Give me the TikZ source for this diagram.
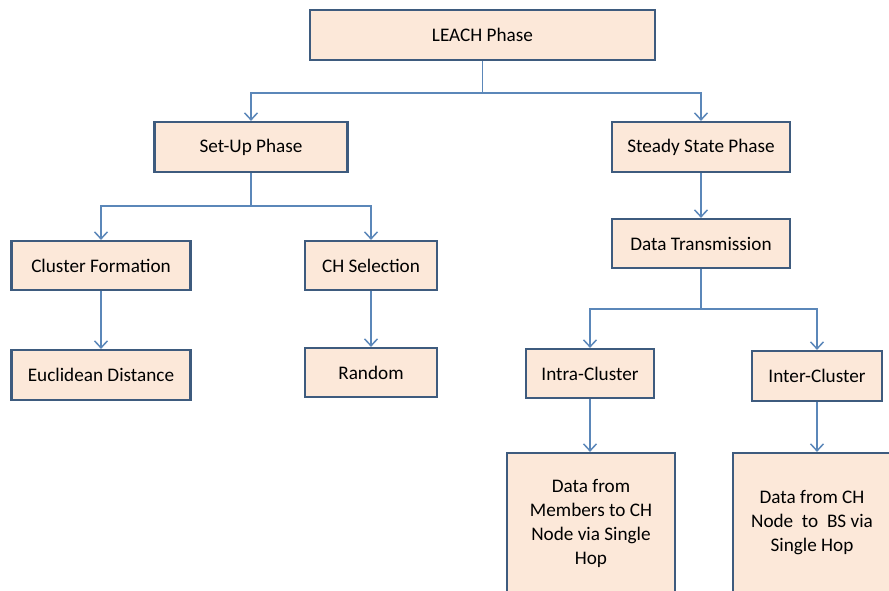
\documentclass[tikz,border=0pt]{standalone}
\usepackage{fontspec}
\setmainfont{Carlito}
\usetikzlibrary{arrows.meta,positioning}

\definecolor{boxfill}{HTML}{FCE8D9}
\definecolor{boxline}{HTML}{3E5B7E}
\definecolor{linkblue}{HTML}{5B87B9}

\begin{document}
\begin{tikzpicture}[
  x=1pt, y=-1pt,
  phase/.style={draw=boxline, fill=boxfill, line width=2.2pt, minimum height=50pt,
    align=center, inner sep=2pt, font=\fontsize{19.2}{24}\selectfont},
  link/.style={draw=linkblue, line width=1.5pt, -{Straight Barb[length=7pt,width=13pt]}}
]
  \useasboundingbox (0,0) rectangle (889,590);
  \clip (0,0) rectangle (889,590);

  \node (leach) [phase, minimum width=345pt] at (482.5,35) {LEACH Phase};

  \node (setup) [phase, minimum width=193pt] at (251,147) {Set-Up Phase};
  \node (steady) [phase, minimum width=178pt] at (701,147) {Steady State Phase};

  \node (cluster) [phase, minimum width=179pt, minimum height=49pt] at (101,265.5) {Cluster Formation};
  \node (chsel) [phase, minimum width=132pt, minimum height=49pt] at (371,265.5) {CH Selection};
  \node (eucl) [phase, minimum width=179pt] at (101,375) {Euclidean Distance};
  \node (random) [phase, minimum width=132pt, minimum height=49pt] at (371,372.5) {Random};

  \node (datatx) [phase, minimum width=178pt, minimum height=49pt] at (701,243.5) {Data Transmission};
  \node (intra) [phase, minimum width=128pt, minimum height=49pt] at (590,373.5) {Intra-Cluster};
  \node (inter) [phase, minimum width=130pt] at (817,376) {Inter-Cluster};

  \node (members) [phase, minimum width=168pt, minimum height=140pt] at (591,523)
    {Data from\\Members to CH\\Node via Single\\Hop};
  \node (chbs) [phase, minimum width=158pt, minimum height=140pt] at (812,523)
    {Data from CH\\Node\ \ to\ \ BS via\\Single Hop};

  % tree links
  \draw[link] (leach.south) -- ++(0,32) -| (setup);
  \draw[link] (leach.south) -- ++(0,32) -| (steady);
  \draw[link] (setup.south) -- ++(0,33) -| (cluster);
  \draw[link] (setup.south) -- ++(0,33) -| (chsel);
  \draw[link] (cluster) -- (eucl);
  \draw[link] (chsel) -- (random);
  \draw[link] (steady) -- (datatx);
  \draw[link] (datatx.south) -- ++(0,40) -| (intra);
  \draw[link] (datatx.south) -- ++(0,40) -| (inter);
  \draw[link] (intra) -- (intra |- members.north);
  \draw[link] (inter) -- (inter |- chbs.north);
\end{tikzpicture}
\end{document}
